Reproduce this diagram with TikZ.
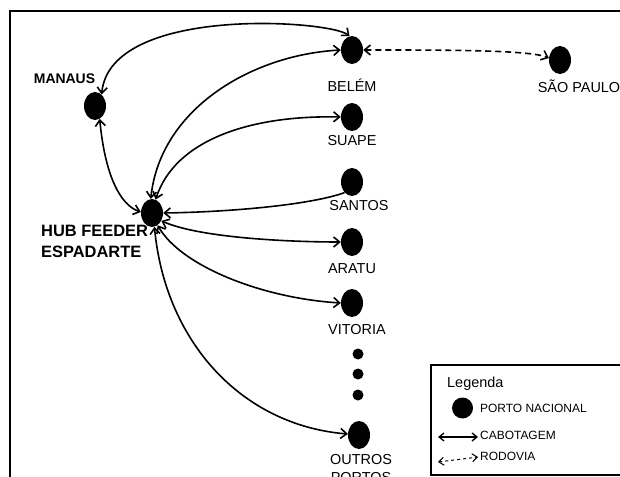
\documentclass[tikz,border=0pt]{standalone}
\usepackage{fontspec}
\setmainfont{Liberation Sans}
\usetikzlibrary{arrows.meta,shapes.geometric}

\begin{document}
\begin{tikzpicture}[
  x=1bp, y=-1bp,
  >={Straight Barb[length=6bp,width=10bp]},
  port/.style={ellipse, fill=black, inner sep=0pt,
               minimum width=22bp, minimum height=28bp},
  dotmark/.style={circle, fill=black, inner sep=0pt, minimum size=11bp},
  lbl/.style={inner sep=0pt, text height=10bp, text depth=0pt,
              font=\fontsize{14.5}{16}\selectfont},
  boldlbl/.style={lbl, font=\fontsize{14}{16}\selectfont\bfseries},
  hubtxt/.style={inner sep=0pt, anchor=west, text height=12bp, text depth=0pt,
                 font=\fontsize{16.5}{19}\selectfont\bfseries},
  leg/.style={inner sep=0pt, anchor=west, text height=8.6bp, text depth=0pt,
              font=\fontsize{12}{14}\selectfont},
  cab/.style={line width=1.6bp, <->},
  rod/.style={cab, dash pattern=on 6bp off 4bp}
]
  \useasboundingbox (0,0) rectangle (620,477);
  % frame
  \draw[line width=2bp] (10,490) -- (10,11.5) -- (630,11.5);

  % ports
  \node[port] (belem)  at (352,50)  {};
  \node[port] (sp)     at (560,60)  {};
  \node[port] (manaus) at (95,106)  {};
  \node[port] (hub)    at (152,213) {};
  \node[port] (suape)  at (352,117) {};
  \node[port] (santos) at (352,182) {};
  \node[port] (aratu)  at (352,242) {};
  \node[port] (vitoria) at (352,303) {};
  \node[port] (outros) at (359,435) {};
  \foreach \n/\y in {d1/354,d2/374,d3/395}
    \node[dotmark] (\n) at (358,\y) {};

  % labels
  \node[lbl] (belemL)   at (352,87)  {BELÉM};
  \node[lbl] (spL)      at (579,88)  {SÃO PAULO};
  \node[boldlbl] (manausL) at (64.5,79) {MANAUS};
  \node[hubtxt] (hubA)  at (41,231)  {HUB FEEDER};
  \node[hubtxt] (hubB)  at (41,251)  {ESPADARTE};
  \node[lbl] (suapeL)   at (352,141) {SUAPE};
  \node[lbl] (santosL)  at (359,206) {SANTOS};
  \node[lbl] (aratuL)   at (352,268) {ARATU};
  \node[lbl] (vitoriaL) at (357,329) {VITORIA};
  \node[lbl] (outrosL)  at (361,459) {OUTROS};
  \node[lbl] (portosL)  at (361,477) {PORTOS};

  % cabotagem
  \draw[cab] (manaus.60) .. controls (110,5) and (330,20) .. (belem.100);
  \draw[cab] (manaus.-70) .. controls (105,175) and (120,205) .. (hub.175);
  \draw[cab] (hub.95) .. controls (160,110) and (250,55) .. (belem.180);
  \draw[cab] (hub.75) .. controls (175,140) and (250,115) .. (suape.180);
  \draw[line width=1.6bp, ->] (santos.235) .. controls (310,205) and (230,212) .. (hub.0);
  \draw[cab] (hub.-40) .. controls (200,238) and (290,242) .. (aratu.180);
  \draw[cab] (hub.-65) .. controls (180,265) and (260,298) .. (vitoria.180);
  \draw[cab] (hub.-80) .. controls (165,340) and (240,425) .. (outros.175);
  % rodovia
  \draw[rod] (belem.0) .. controls (450,50) and (530,50) .. (sp.170);

  % legend
  \draw[line width=2bp] (630,365) -- (431,365) -- (431,474.5) -- (630,474.5);
  \node[lbl, anchor=west] (legT) at (447,382.5) {Legenda};
  \node[circle, fill=black, inner sep=0pt, minimum size=21bp] (legDot) at (462.5,408) {};
  \node[leg] (legPort) at (480,408) {PORTO NACIONAL};
  \coordinate (cabA) at (438,437);
  \coordinate (cabB) at (478,437);
  \draw[line width=1.3bp, <->, >={Straight Barb[length=5bp,width=8bp]}] (cabA) -- (cabB);
  \node[leg] (legCab) at (480,435) {CABOTAGEM};
  \coordinate (rodA) at (438,462);
  \coordinate (rodB) at (478,457);
  \draw[line width=1bp, <->, dash pattern=on 3bp off 3bp,
        >={Straight Barb[length=5bp,width=8bp]}] (rodA) -- (rodB);
  \node[leg] (legRod) at (480,456) {RODOVIA};
\end{tikzpicture}
\end{document}
